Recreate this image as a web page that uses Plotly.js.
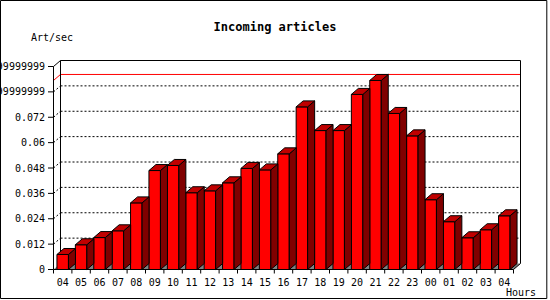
<!DOCTYPE html>
<html>
<head>
<meta charset="utf-8">
<script src="https://cdn.plot.ly/plotly-3.0.1.min.js"></script>
<style>html,body{margin:0;padding:0;background:#fff;}#chart{width:550px;height:300px;}</style>
</head>
<body>
<div id="chart"></div>
<script>
// ---- data ----
const hours = ["04","05","06","07","08","09","10","11","12","13","14","15","16","17","18","19","20","21","22","23","00","01","02","03","04"];
const rates = [0.0071,0.0117,0.0151,0.0183,0.0315,0.0468,0.0492,0.0363,0.0372,0.0410,0.0478,0.0471,0.0547,0.0769,0.0657,0.0657,0.0828,0.0894,0.0738,0.0632,0.0330,0.0226,0.0150,0.0188,0.0254];
const yTickVals = [0,0.012,0.024,0.036,0.048,0.06,0.072,0.084,0.096];
const yTickText = ["0","0.012","0.024","0.036","0.048","0.06","0.072","0.08399999999999999","0.09599999999999999"];
const titleText = "Incoming articles";
const yUnitText = "Art/sec";
const xUnitText = "Hours";

// ---- geometry (pixels) ----
const W = 550, H = 300, L = 46, R = 27, T = 58, B = 25;
const PW = W - L - R, PH = H - T - B;
const X0PX = 53.5, SLOT = 18.4, Y0PX = 269.5, YSCALE = 203 / 0.096;
function xOf(px){ return -0.5 + (px - X0PX) / SLOT; }
function yOf(py){ return (Y0PX - py) / YSCALE; }
const xRange = [xOf(L), xOf(W - R)];
const yRange = [yOf(H - B), yOf(T)];
const DX = 7 / SLOT, DY = 6 / YSCALE, HALF = 5.75 / SLOT;
const n = hours.length;
const xs = hours.map((h, i) => i);
const xEnd = n - 0.5;
const yTop = yTickVals[yTickVals.length - 1];
const maxVal = Math.max(...rates);

// ---- 3D faces ----
const topX = [], topY = [], sideX = [], sideY = [];
rates.forEach((v, i) => {
  const x0 = i - HALF, x1 = i + HALF;
  topX.push(x0, x1, x1 + DX, x0 + DX, x0, null);
  topY.push(v, v, v + DY, v + DY, v, null);
  sideX.push(x1, x1, x1 + DX, x1 + DX, x1, null);
  sideY.push(0, v, v + DY, DY, 0, null);
});

const traces = [
  { type: 'bar', x: xs, y: rates, width: 2 * HALF,
    marker: { color: '#ff0000', line: { color: '#000000', width: 1 } }, hoverinfo: 'skip' },
  { type: 'scatter', mode: 'lines', x: sideX, y: sideY, fill: 'toself', fillcolor: '#800000',
    line: { color: '#000000', width: 1 }, hoverinfo: 'skip' },
  { type: 'scatter', mode: 'lines', x: topX, y: topY, fill: 'toself', fillcolor: '#c00000',
    line: { color: '#000000', width: 1 }, hoverinfo: 'skip' }
];

// ---- decorations ----
const shapes = [];
function seg(x0, y0, x1, y1, color, dash, layer){
  shapes.push({ type: 'line', xref: 'x', yref: 'y', x0, y0, x1, y1, layer: layer || 'below',
    line: { color: color || '#000000', width: 1, dash: dash || 'solid' } });
}
// floor
shapes.push({ type: 'path', xref: 'x', yref: 'y', layer: 'below',
  path: `M ${-0.5},0 L ${xEnd},0 L ${xEnd + DX},${DY} L ${-0.5 + DX},${DY} Z`,
  fillcolor: '#808080', line: { width: 0 } });
// dotted grid on back wall
yTickVals.forEach(v => {
  if (v > 0 && v < yTop) {
    seg(-0.5, v, -0.5 + DX, v + DY, '#000000', '2px,2px');
    seg(-0.5 + DX, v + DY, xEnd + DX, v + DY, '#000000', '2px,2px');
  }
});
// max line
seg(-0.5, maxVal, -0.5 + DX, maxVal + DY, '#ff0000');
seg(-0.5 + DX, maxVal + DY, xEnd + DX, maxVal + DY, '#ff0000');
// back frame
seg(-0.5 + DX, DY, -0.5 + DX, yTop + DY);
seg(-0.5 + DX, yTop + DY, xEnd + DX, yTop + DY);
seg(xEnd + DX, DY, xEnd + DX, yTop + DY);
seg(-0.5, yTop, -0.5 + DX, yTop + DY);
seg(xEnd, 0, xEnd + DX, DY, '#000000', 'solid', 'above');
// front axes
seg(-0.5, 0, -0.5, yTop, '#000000', 'solid', 'above');
seg(-0.5, 0, xEnd, 0, '#000000', 'solid', 'above');
yTickVals.forEach(v => seg(xOf(48), v, -0.5, v, '#000000', 'solid', 'above'));
for (let k = 0; k <= n; k++) seg(k - 0.5, 0, k - 0.5, yOf(273.5), '#000000', 'solid', 'above');
// outer border
shapes.push({ type: 'rect', xref: 'paper', yref: 'paper',
  x0: (0.5 - L) / PW, x1: (546.8 - L) / PW, y0: (H - B - 298.5) / PH, y1: (H - B - 0.5) / PH,
  line: { color: '#000000', width: 1 }, fillcolor: 'rgba(0,0,0,0)', layer: 'above' });

const mono = 'DejaVu Sans Mono, monospace';
const layout = {
  width: W, height: H,
  margin: { l: L, r: R, t: T, b: B, pad: 0 },
  paper_bgcolor: '#ffffff', plot_bgcolor: '#ffffff',
  showlegend: false,
  title: { text: '<b>' + titleText + '</b>', x: 0.5, xanchor: 'center', y: 1 - 27 / H, yanchor: 'middle',
    font: { family: mono, size: 12, color: '#000000' } },
  xaxis: { range: xRange, tickmode: 'array', tickvals: xs, ticktext: hours, ticks: '',
    showgrid: false, zeroline: false, showline: false, fixedrange: true,
    tickfont: { family: mono, size: 10, color: '#000000' }, ticklabelstandoff: 0 },
  yaxis: { range: yRange, tickmode: 'array', tickvals: yTickVals, ticktext: yTickText, ticks: '',
    showgrid: false, zeroline: false, showline: false, fixedrange: true,
    tickfont: { family: mono, size: 10, color: '#000000' }, ticklabelstandoff: 0 },
  shapes: shapes,
  annotations: [
    { xref: 'paper', yref: 'paper', x: (29 - L) / PW, y: (H - B - 37) / PH, xanchor: 'left', yanchor: 'middle',
      text: yUnitText, showarrow: false, font: { family: mono, size: 10, color: '#000000' } },
    { xref: 'paper', yref: 'paper', x: (504 - L) / PW, y: (H - B - 292) / PH, xanchor: 'left', yanchor: 'middle',
      text: xUnitText, showarrow: false, font: { family: mono, size: 10, color: '#000000' } }
  ]
};
Plotly.newPlot('chart', traces, layout, { staticPlot: true, displayModeBar: false });
</script>
</body>
</html>
